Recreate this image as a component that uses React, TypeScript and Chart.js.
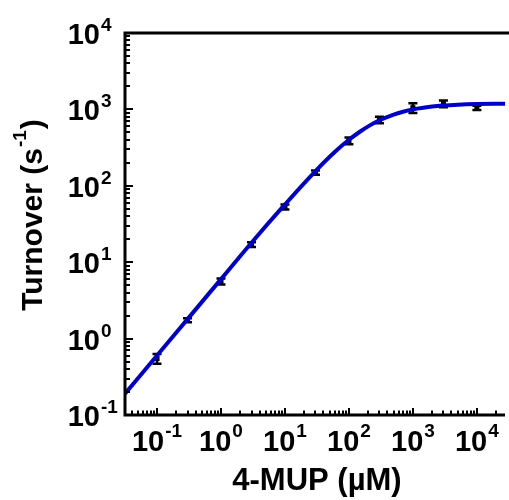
import React, { useEffect, useRef } from "react";
import { Chart, registerables } from "chart.js";

Chart.register(...registerables);

// ---- data ----
const substrate = [0.1, 0.3, 1, 3, 10, 30, 100, 300, 1000, 3000, 10000];
const turnover = [0.55, 1.74, 5.6, 17, 53, 149, 390, 731, 1050, 1183, 1050];
const turnoverErr = [0.08, 0.1, 0.5, 1.2, 4, 10, 40, 70, 150, 120, 70];

const fitX = [0.0316, 0.1, 0.3, 1, 3, 10, 30, 60, 100, 150, 200, 300, 500, 700, 1000, 2000, 3000, 5000, 10000, 27500];
const fitY = [0.19, 0.6, 1.8, 6.0, 18, 57, 156, 277, 400, 514, 600, 720, 857, 933, 1000, 1090, 1125, 1154, 1176, 1190];

const xExponents = ["-1", "0", "1", "2", "3", "4"];
const yExponents = ["-1", "0", "1", "2", "3", "4"];
const xTitle = "4-MUP (µM)";
const yTitleMain = "Turnover (s";
const yTitleSup = "-1";
const yTitleEnd = ")";

const FONT = "'Liberation Sans', Arial, sans-serif";

function minorValues(minE: number, maxE: number) {
  const out: { v: number; major: boolean }[] = [];
  for (let e = minE; e <= maxE; e++) {
    for (let m = 1; m <= 9; m++) {
      out.push({ v: m * Math.pow(10, e), major: m === 1 });
    }
  }
  return out;
}

const decorPlugin = {
  id: "decor",
  beforeDatasetsDraw(chart: any) {
    const ctx = chart.ctx;
    const xs = chart.scales.x;
    const ys = chart.scales.y;
    ctx.save();
    ctx.strokeStyle = "#000";
    ctx.lineWidth = 2.5;
    substrate.forEach((x, i) => {
      const px = xs.getPixelForValue(x);
      const top = ys.getPixelForValue(turnover[i] + turnoverErr[i]);
      const bot = ys.getPixelForValue(Math.max(turnover[i] - turnoverErr[i], 1e-6));
      ctx.beginPath();
      ctx.moveTo(px, top);
      ctx.lineTo(px, bot);
      ctx.moveTo(px - 4.5, top);
      ctx.lineTo(px + 4.5, top);
      ctx.moveTo(px - 4.5, bot);
      ctx.lineTo(px + 4.5, bot);
      ctx.stroke();
    });
    ctx.restore();
  },
  afterDraw(chart: any) {
    const ctx = chart.ctx;
    const xs = chart.scales.x;
    const ys = chart.scales.y;
    const { left, right, top, bottom } = chart.chartArea;
    ctx.save();
    ctx.strokeStyle = "#000";
    ctx.fillStyle = "#000";

    // axis lines
    ctx.lineWidth = 3;
    ctx.beginPath();
    ctx.moveTo(left, top - 1.5);
    ctx.lineTo(left, bottom + 1.5);
    ctx.moveTo(left - 1.5, bottom);
    ctx.lineTo(right, bottom);
    ctx.moveTo(left - 1.5, top);
    ctx.lineTo(chart.width, top);
    ctx.stroke();

    // ticks (inward)
    ctx.lineWidth = 2;
    ctx.beginPath();
    minorValues(-2, 4).forEach(({ v, major }) => {
      if (v < xs.min || v > xs.max) return;
      const px = Math.round(xs.getPixelForValue(v));
      ctx.moveTo(px, bottom);
      ctx.lineTo(px, bottom - (major ? 7 : 4.5));
    });
    minorValues(-1, 3).forEach(({ v, major }) => {
      if (v < ys.min || v > ys.max) return;
      const py = Math.round(ys.getPixelForValue(v));
      ctx.moveTo(left, py);
      ctx.lineTo(left + (major ? 8 : 5), py);
    });
    ctx.stroke();

    const bigFont = `bold 29px ${FONT}`;
    const supFont = `bold 19px ${FONT}`;

    // x tick labels
    ctx.textBaseline = "alphabetic";
    xExponents.forEach((e) => {
      const px = xs.getPixelForValue(Math.pow(10, Number(e)));
      ctx.font = bigFont;
      const w1 = ctx.measureText("10").width;
      ctx.font = supFont;
      const w2 = ctx.measureText(e).width;
      const start = px - (w1 + 1 + w2) / 2;
      ctx.textAlign = "left";
      ctx.font = bigFont;
      ctx.fillText("10", start, 451);
      ctx.font = supFont;
      ctx.fillText(e, start + w1 + 1, 437);
    });

    // y tick labels
    yExponents.forEach((e) => {
      const py = ys.getPixelForValue(Math.pow(10, Number(e)));
      ctx.font = bigFont;
      ctx.textAlign = "right";
      ctx.fillText("10", 100, py + 11);
      ctx.font = supFont;
      ctx.textAlign = "left";
      ctx.fillText(e, 101, py - 2);
    });

    // x title
    ctx.font = `bold 31px ${FONT}`;
    ctx.textAlign = "center";
    ctx.fillText(xTitle, (left + right) / 2 + 2, 490);

    // y title (rotated)
    ctx.save();
    ctx.translate(42, 215);
    ctx.rotate(-Math.PI / 2);
    const tFont = `bold 30px ${FONT}`;
    const tSup = `bold 19px ${FONT}`;
    ctx.font = tFont;
    const a = ctx.measureText(yTitleMain).width;
    const c = ctx.measureText(yTitleEnd).width;
    ctx.font = tSup;
    const b = ctx.measureText(yTitleSup).width;
    let x0 = -(a + b + c + 2) / 2;
    ctx.textAlign = "left";
    ctx.font = tFont;
    ctx.fillText(yTitleMain, x0, 0);
    x0 += a + 1;
    ctx.font = tSup;
    ctx.fillText(yTitleSup, x0, -16);
    x0 += b + 1;
    ctx.font = tFont;
    ctx.fillText(yTitleEnd, x0, 0);
    ctx.restore();

    ctx.restore();
  },
};

export default function App() {
  const ref = useRef<HTMLCanvasElement | null>(null);
  useEffect(() => {
    if (!ref.current) return;
    const chart = new Chart(ref.current, {
      type: "scatter",
      data: {
        datasets: [
          {
            type: "line",
            label: "fit",
            data: fitX.map((x, i) => ({ x, y: fitY[i] })),
            borderColor: "rgb(0,0,205)",
            borderWidth: 4,
            pointRadius: 0,
            cubicInterpolationMode: "monotone",
            fill: false,
            order: 0,
          } as any,
          {
            type: "scatter",
            label: "data",
            data: substrate.map((x, i) => ({ x, y: turnover[i] })),
            pointStyle: "rect",
            pointRadius: 3.6,
            backgroundColor: "#000",
            borderColor: "#000",
            borderWidth: 0,
            order: 1,
          },
        ],
      },
      options: {
        responsive: false,
        animation: false,
        layout: { padding: { left: 125, right: 1, top: 33, bottom: 85 } },
        plugins: { legend: { display: false }, tooltip: { enabled: false } },
        scales: {
          x: { type: "logarithmic", min: 0.0316, max: 27500, display: false },
          y: { type: "logarithmic", min: 0.1, max: 10000, display: false },
        },
      },
      plugins: [decorPlugin],
    });
    return () => chart.destroy();
  }, []);
  return (
    <div style={{ position: "absolute", left: 0, top: 0, width: 509, height: 500, background: "#fff" }}>
      <canvas ref={ref} width={509} height={500} style={{ width: 509, height: 500, display: "block" }} />
    </div>
  );
}
